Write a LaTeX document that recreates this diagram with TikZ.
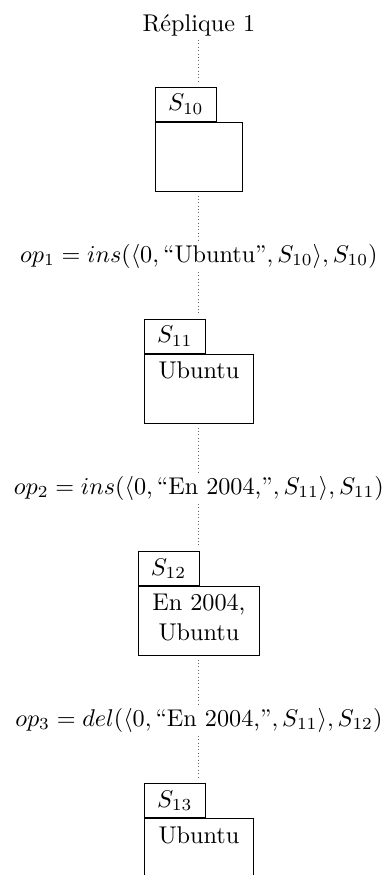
\documentclass[tikz,border=0pt]{standalone}
\usepackage{amsmath,amssymb}
\usepackage{tikz}
\usetikzlibrary{positioning}

\begin{document}
\begin{tikzpicture}[
    node distance=20pt,
    etat/.style={draw, align=center, inner xsep=5.9pt, inner ysep=3.25pt,
                 text height=6.94pt, text depth=15.16pt, minimum width=35.95pt},
    deuxlignes/.style={text height=18.94pt, text depth=3.16pt},
    onglet/.style={draw, anchor=south west, minimum width=25.2pt, minimum height=13.85pt, inner sep=0pt},
    op/.style={inner sep=1.3pt},
    lien/.style={densely dotted, black!60}
]
\useasboundingbox (-82.2pt,0) rectangle (76.5pt,-361.6pt);
\node[op, anchor=base] (rep) at (0,-13.1pt) {Réplique 1};
\node[etat, below=33.76pt of rep] (e10) {};
\node[onglet] (s10) at (e10.north west) {$S_{10}$};
\node[op, below=of e10] (op1) {$op_1 = ins(\langle 0, \text{“Ubuntu”}, S_{10}\rangle, S_{10})$};
\node[etat, below=33.9pt of op1] (e11) {Ubuntu};
\node[onglet] (s11) at (e11.north west) {$S_{11}$};
\node[op, below=of e11] (op2) {$op_2 = ins(\langle 0, \text{“En 2004,”}, S_{11}\rangle, S_{11})$};
\node[etat, deuxlignes, below=33.9pt of op2] (e12) {En 2004,\\Ubuntu};
\node[onglet] (s12) at (e12.north west) {$S_{12}$};
\node[op, below=of e12] (op3) {$op_3 = del(\langle 0, \text{“En 2004,”}, S_{11}\rangle, S_{12})$};
\node[etat, below=33.9pt of op3] (e13) {Ubuntu};
\node[onglet] (s13) at (e13.north west) {$S_{13}$};
% lignes de vie
\draw[lien, shorten >=2pt] (rep.south) -- (rep.south |- s10.north);
\draw[lien, shorten <=1.5pt] (e10.south) -- (op1.north);
\draw[lien, shorten >=1.5pt] (op1.south) -- (op1.south |- s11.north);
\draw[lien, shorten <=1.5pt] (e11.south) -- (op2.north);
\draw[lien, shorten >=1.5pt] (op2.south) -- (op2.south |- s12.north);
\draw[lien, shorten <=1.5pt] (e12.south) -- (op3.north);
\draw[lien, shorten >=1.5pt] (op3.south) -- (op3.south |- s13.north);
\end{tikzpicture}
\end{document}
